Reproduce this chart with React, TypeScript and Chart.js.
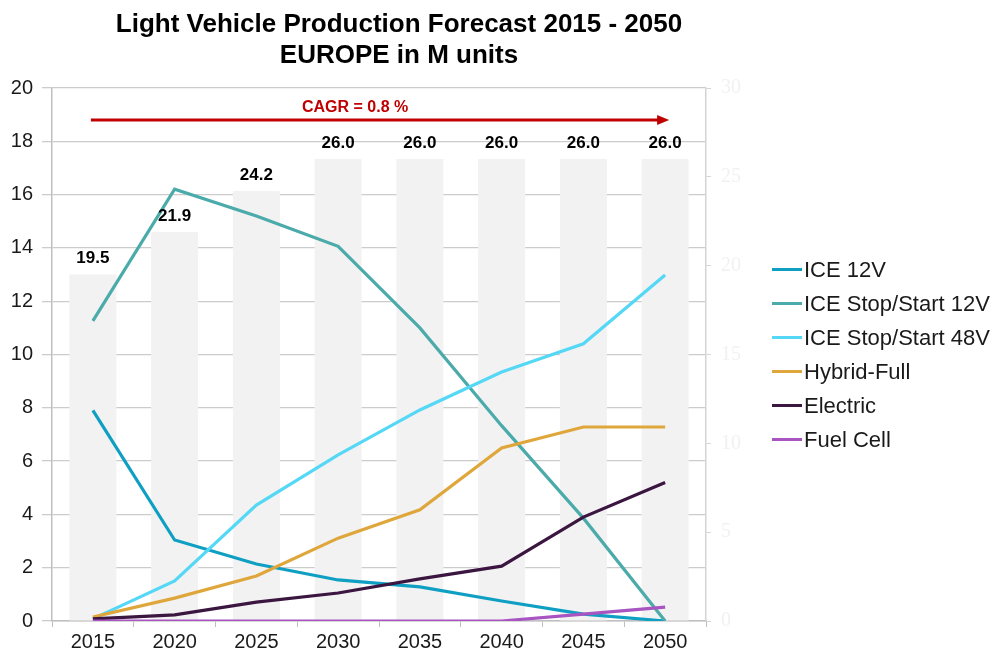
import React, { useEffect, useRef } from "react";
import { Chart, registerables } from "chart.js";

Chart.register(...registerables);

const years = ["2015", "2020", "2025", "2030", "2035", "2040", "2045", "2050"];
const totalProduction = [19.5, 21.9, 24.2, 26.0, 26.0, 26.0, 26.0, 26.0];
const ice12V = [7.9, 3.04, 2.14, 1.54, 1.28, 0.75, 0.26, 0];
const iceStopStart12V = [11.26, 16.2, 15.2, 14.06, 11.0, 7.33, 3.86, 0];
const iceStopStart48V = [0.08, 1.5, 4.35, 6.23, 7.92, 9.34, 10.4, 12.98];
const hybridFull = [0.15, 0.86, 1.69, 3.11, 4.17, 6.49, 7.28, 7.28];
const electric = [0.08, 0.23, 0.71, 1.05, 1.58, 2.06, 3.9, 5.2];
const fuelCell = [0, 0, 0, 0, 0, 0, 0.26, 0.52];

const seriesLabels = [
  "ICE 12V",
  "ICE Stop/Start 12V",
  "ICE Stop/Start 48V",
  "Hybrid-Full",
  "Electric",
  "Fuel Cell",
];
const seriesColors = ["#0f9fc3", "#4aabaa", "#55d8f6", "#dfa73b", "#3b1640", "#a855c2"];
const seriesValues = [ice12V, iceStopStart12V, iceStopStart48V, hybridFull, electric, fuelCell];

const titleLines = ["Light Vehicle Production Forecast 2015 - 2050", "EUROPE in M units"];
const cagrLabel = "CAGR = 0.8 %";
const cagrLevel = 18.8;

const FONT = '"Liberation Sans", Arial, sans-serif';

const overlayPlugin = {
  id: "overlay",
  afterDraw(chart: any) {
    const ctx = chart.ctx as CanvasRenderingContext2D;
    const area = chart.chartArea;
    const x = chart.scales.x;
    const y = chart.scales.y;

    // Title
    ctx.save();
    ctx.fillStyle = "#000000";
    ctx.font = `bold 26px ${FONT}`;
    ctx.textAlign = "center";
    ctx.textBaseline = "alphabetic";
    ctx.fillText(titleLines[0], 399, 32);
    ctx.fillText(titleLines[1], 399, 63);
    ctx.restore();

    // Bar value labels
    const barMeta = chart.getDatasetMeta(0);
    ctx.save();
    ctx.fillStyle = "#000000";
    ctx.font = `bold 17px ${FONT}`;
    ctx.textAlign = "center";
    ctx.textBaseline = "middle";
    barMeta.data.forEach((bar: any, i: number) => {
      ctx.fillText(totalProduction[i].toFixed(1), bar.x, bar.y - 16);
    });
    ctx.restore();

    // CAGR arrow
    const yA = y.getPixelForValue(cagrLevel);
    const x0 = x.getPixelForValue(0) - 2;
    const x1 = x.getPixelForValue(years.length - 1) + 4;
    ctx.save();
    ctx.strokeStyle = "#c00000";
    ctx.fillStyle = "#c00000";
    ctx.lineWidth = 3;
    ctx.beginPath();
    ctx.moveTo(x0, yA);
    ctx.lineTo(x1 - 10, yA);
    ctx.stroke();
    ctx.beginPath();
    ctx.moveTo(x1, yA);
    ctx.lineTo(x1 - 12, yA - 5);
    ctx.lineTo(x1 - 12, yA + 5);
    ctx.closePath();
    ctx.fill();
    ctx.font = `bold 16px ${FONT}`;
    ctx.textAlign = "center";
    ctx.textBaseline = "middle";
    ctx.fillText(cagrLabel, x.getPixelForValue(3) + 17, yA - 12);
    ctx.restore();

    // Legend
    const rowH = 34;
    const n = seriesLabels.length;
    const cy = (area.top + area.bottom) / 2;
    const startY = cy - ((n - 1) * rowH) / 2;
    const lx = area.right + 66;
    ctx.save();
    ctx.font = `22px ${FONT}`;
    ctx.textAlign = "left";
    ctx.textBaseline = "middle";
    for (let i = 0; i < n; i++) {
      const ry = startY + i * rowH;
      ctx.strokeStyle = seriesColors[i];
      ctx.lineWidth = 3;
      ctx.beginPath();
      ctx.moveTo(lx, ry);
      ctx.lineTo(lx + 30, ry);
      ctx.stroke();
      ctx.fillStyle = "#1a1a1a";
      ctx.fillText(seriesLabels[i], lx + 32, ry + 1);
    }
    ctx.restore();
  },
};

export default function App() {
  const ref = useRef<HTMLCanvasElement | null>(null);

  useEffect(() => {
    if (!ref.current) return;
    const lineDatasets = seriesLabels.map((label, i) => ({
      type: "line" as const,
      label,
      data: seriesValues[i],
      borderColor: seriesColors[i],
      backgroundColor: seriesColors[i],
      borderWidth: 3.2,
      pointRadius: 0,
      tension: 0,
      yAxisID: "y",
      order: seriesLabels.length - i,
    }));
    const chart = new Chart(ref.current, {
      type: "bar",
      data: {
        labels: years,
        datasets: [
          {
            type: "bar" as const,
            label: "Total",
            data: totalProduction,
            backgroundColor: "#f2f2f2",
            borderWidth: 0,
            barPercentage: 0.575,
            categoryPercentage: 1,
            yAxisID: "y2",
            order: 20,
          },
          ...lineDatasets,
        ] as any,
      },
      options: {
        responsive: false,
        animation: false,
        devicePixelRatio: 1,
        layout: { padding: { top: 88, left: 0, right: 0, bottom: 0 } },
        plugins: {
          legend: { display: false },
          tooltip: { enabled: false },
          title: { display: false },
        },
        scales: {
          x: {
            type: "category",
            offset: true,
            grid: {
              offset: true,
              drawOnChartArea: false,
              drawTicks: true,
              tickLength: 6,
              color: "#bfbfbf",
            },
            border: { color: "#bfbfbf", width: 1.5 },
            ticks: {
              color: "#1a1a1a",
              font: { family: FONT, size: 20 },
              padding: 3,
              maxRotation: 0,
            },
            afterFit(scale: any) {
              scale.height = 34;
            },
          },
          y: {
            position: "left",
            min: 0,
            max: 20,
            ticks: {
              stepSize: 2,
              color: "#1a1a1a",
              font: { family: FONT, size: 20 },
              padding: 9,
            },
            grid: { color: "#cccccc", lineWidth: 1.3, tickLength: 10 },
            border: { color: "#bfbfbf", width: 1.5 },
            afterFit(scale: any) {
              scale.width = 52;
            },
          },
          y2: {
            position: "right",
            min: 0,
            max: 30,
            ticks: {
              stepSize: 5,
              color: "#f1f1f1",
              font: { family: '"Liberation Serif", serif', size: 20 },
              padding: 10,
            },
            grid: { drawOnChartArea: false, color: "#d4d4d4", tickLength: 5 },
            border: { color: "#d4d4d4", width: 1.5 },
            afterFit(scale: any) {
              scale.width = 998 - 706;
            },
          },
        },
      },
      plugins: [overlayPlugin],
    });
    return () => chart.destroy();
  }, []);

  return (
    <div style={{ position: "fixed", left: 0, top: 0, width: 998, height: 655, background: "#ffffff" }}>
      <canvas ref={ref} width={998} height={655} style={{ display: "block", width: 998, height: 655 }} />
    </div>
  );
}
